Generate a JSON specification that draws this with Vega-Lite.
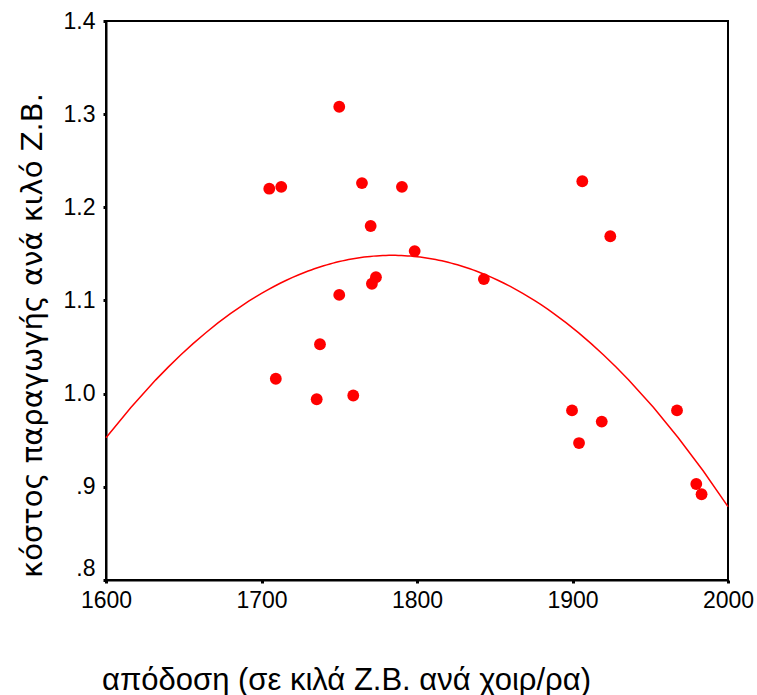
{
  "$schema": "https://vega.github.io/schema/vega-lite/v6.json",
  "autosize": "none",
  "width": 622,
  "height": 559,
  "padding": {"left": 106, "top": 21, "right": 29, "bottom": 115},
  "background": "white",
  "config": {
    "view": {"stroke": "black", "strokeWidth": 2},
    "axis": {
      "grid": false,
      "domainColor": "black",
      "domainWidth": 2,
      "tickColor": "black",
      "tickSize": 3,
      "tickWidth": 3,
      "labelFlush": false,
      "labelFont": "Liberation Sans",
      "labelFontSize": 23,
      "labelColor": "black",
      "titleColor": "black",
      "titleFontWeight": "normal"
    }
  },
  "data": {
    "values": [
      {"yield": 1705, "cost": 1.220},
      {"yield": 1712.7, "cost": 1.222},
      {"yield": 1750, "cost": 1.308},
      {"yield": 1764.6, "cost": 1.226},
      {"yield": 1790.3, "cost": 1.222},
      {"yield": 1770.2, "cost": 1.180},
      {"yield": 1798.5, "cost": 1.153},
      {"yield": 1773.6, "cost": 1.125},
      {"yield": 1771, "cost": 1.118},
      {"yield": 1750, "cost": 1.106},
      {"yield": 1737.6, "cost": 1.053},
      {"yield": 1709.2, "cost": 1.016},
      {"yield": 1735.5, "cost": 0.994},
      {"yield": 1759, "cost": 0.998},
      {"yield": 1843, "cost": 1.123},
      {"yield": 1906.3, "cost": 1.228},
      {"yield": 1924.3, "cost": 1.169},
      {"yield": 1899.7, "cost": 0.982},
      {"yield": 1918.8, "cost": 0.970},
      {"yield": 1904.2, "cost": 0.947},
      {"yield": 1967.2, "cost": 0.982},
      {"yield": 1979.6, "cost": 0.903},
      {"yield": 1983, "cost": 0.892}
    ]
  },
  "encoding": {
    "x": {
      "field": "yield",
      "type": "quantitative",
      "scale": {"domain": [1600, 2000], "nice": false, "zero": false},
      "axis": {
        "values": [1600, 1700, 1800, 1900, 2000],
        "format": "d",
        "labelPadding": 6,
        "title": "απόδοση (σε κιλά Ζ.Β. ανά χοιρ/ρα)",
        "titleFont": "Liberation Sans",
        "titleFontSize": 31,
        "titleX": 240,
        "titleY": 100,
        "titleAlign": "center",
        "titleBaseline": "middle"
      }
    },
    "y": {
      "field": "cost",
      "type": "quantitative",
      "scale": {"domain": [0.8, 1.4], "nice": false, "zero": false},
      "axis": {
        "values": [0.8, 0.9, 1.0, 1.1, 1.2, 1.3, 1.4],
        "labelExpr": "datum.value >= 1 ? format(datum.value, '.1f') : replace(format(datum.value, '.1f'), '0.', '.')",
        "labelPadding": 8,
        "labelBaseline": {"condition": {"test": "datum.value < 0.85", "value": "bottom"}, "value": "middle"},
        "title": "κόστος παραγωγής ανά κιλό Ζ.Β.",
        "titleFont": "DejaVu Sans",
        "titleFontSize": 29,
        "titleAngle": 270,
        "titleX": -74,
        "titleY": 314,
        "titleAlign": "center",
        "titleBaseline": "middle"
      }
    }
  },
  "layer": [
    {
      "mark": {"type": "circle", "size": 140, "color": "#ff0000", "opacity": 1}
    },
    {
      "transform": [
        {"regression": "cost", "on": "yield", "method": "poly", "order": 2, "extent": [1600, 2000]}
      ],
      "mark": {"type": "line", "color": "#ff0000", "strokeWidth": 1.5}
    }
  ]
}
